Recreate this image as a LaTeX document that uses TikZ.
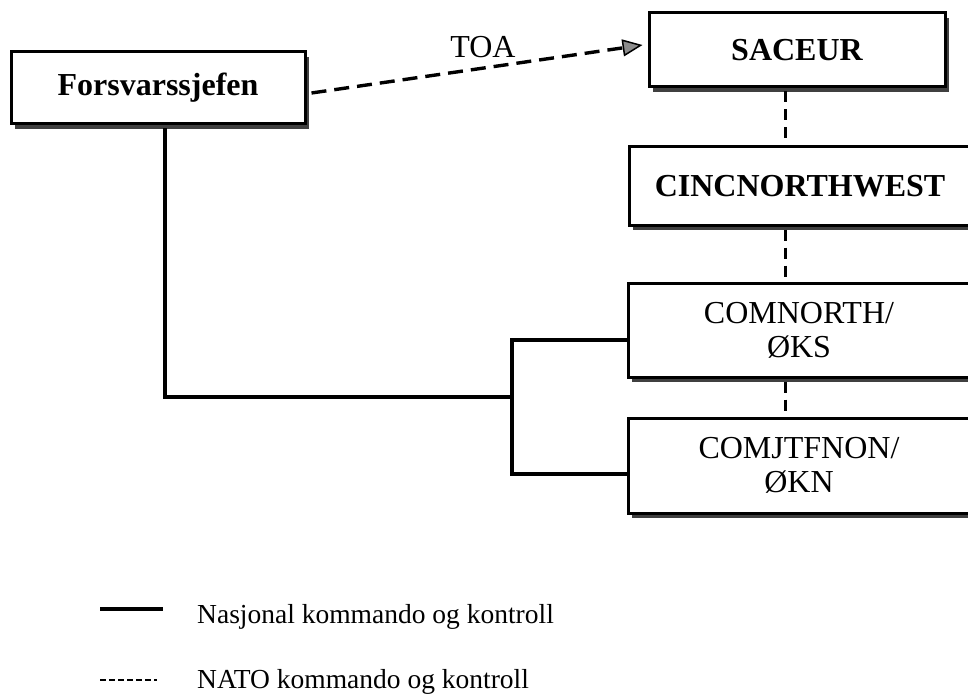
\documentclass[tikz,border=0pt]{standalone}
\usepackage{fontspec}
\setmainfont{Liberation Serif}
\usetikzlibrary{arrows.meta,shadows}
\begin{document}
\begin{tikzpicture}[x=1pt,y=-1pt,
  box/.style={draw=black,line width=3pt,fill=white,inner sep=0pt,align=center,
     drop shadow={shadow xshift=4pt,shadow yshift=-5pt,fill=black!75,opacity=1}},
  bigb/.style={font=\fontsize{32}{34}\selectfont\bfseries},
  bigr/.style={font=\fontsize{32}{34}\selectfont},
  legtext/.style={font=\fontsize{27.5}{30}\selectfont,anchor=base west,inner sep=0pt},
  natl/.style={line width=3.4pt},
  natolink/.style={line width=3pt,dash pattern=on 11pt off 7pt},
  toalink/.style={line width=3.4pt,dash pattern=on 15pt off 8pt,
     -{Triangle[length=20pt,width=17pt,line width=1.5pt,fill=black!45]}},
]
\useasboundingbox (0,0) rectangle (968,695);
\clip (0,0) rectangle (968,695);
\fill[white] (0,0) rectangle (968,695);

% boxes
\node[box,bigb,minimum width=294pt,minimum height=72pt] (fs) at (158,88) {Forsvarssjefen};
\node[box,bigb,minimum width=296pt,minimum height=74pt] (sac) at (797,50) {SACEUR};
\node[box,bigb,minimum width=342pt,minimum height=78pt] (cinc) at (800,186) {CINCNORTHWEST};
\node[box,bigr,minimum width=342pt,minimum height=94pt] (comn) at (799,330) {COMNORTH/\\ØKS};
\node[box,bigr,minimum width=342pt,minimum height=95pt] (comj) at (799,465.5) {COMJTFNON/\\ØKN};

% helper coordinates
\coordinate (nx) at (785,0);
\coordinate (fx) at (165,0);
\coordinate (j) at (512,397);
\coordinate (b1) at (512,340);
\coordinate (b2) at (512,474);

% TOA arrow
\draw[toalink] ([xshift=5pt,yshift=-5pt]fs.east) -- ([xshift=-5pt,yshift=5pt]sac.west);
\node[bigr,anchor=base,inner sep=0pt] (toa) at (483,58) {TOA};

% NATO chain
\draw[natolink] ([yshift=-3pt]sac.south -| nx) -- (cinc.north -| nx);
\draw[natolink] ([yshift=-3pt]cinc.south -| nx) -- (comn.north -| nx);
\draw[natolink] ([yshift=-3pt]comn.south -| nx) -- (comj.north -| nx);

% national chain
\draw[natl] ([yshift=-3pt]fs.south -| fx) |- (j);
\draw[natl] (comn.west |- b1) -- (b1) -- (b2) -- (comj.west |- b2);

% legend
\coordinate (l1a) at (100,609);
\coordinate (l1b) at (163,609);
\coordinate (l2a) at (100,680);
\coordinate (l2b) at (157,680);
\draw[natl] (l1a) -- (l1b);
\draw[line width=2.4pt,dash pattern=on 6pt off 3pt] (l2a) -- (l2b);
\node[legtext] (leg1) at (197,623) {Nasjonal kommando og kontroll};
\node[legtext] (leg2) at (197,688) {NATO kommando og kontroll};
\end{tikzpicture}
\end{document}
